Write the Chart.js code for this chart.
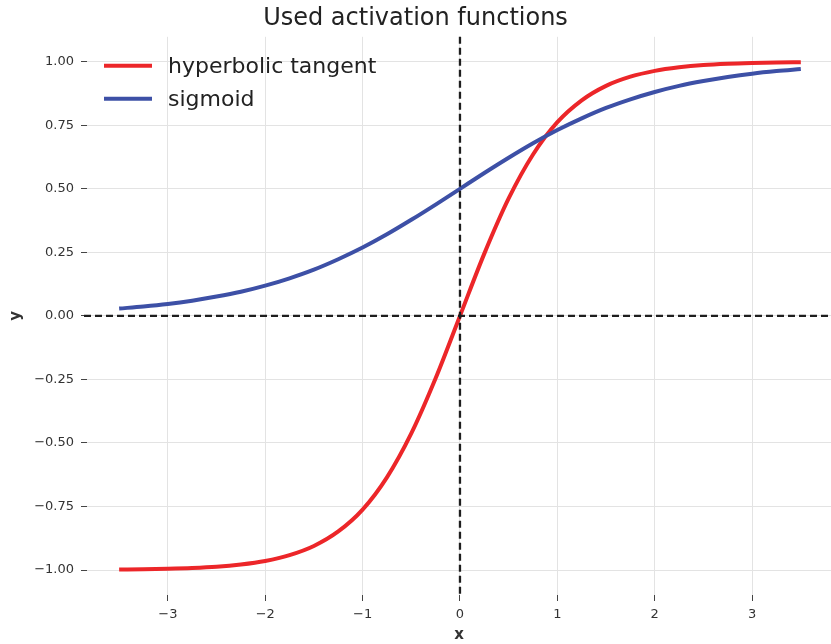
<!DOCTYPE html>
<html>
<head>
<meta charset="utf-8">
<script src="https://cdn.jsdelivr.net/npm/chart.js@4/dist/chart.umd.min.js"></script>
<style>
  html, body { margin: 0; padding: 0; background: #fff; }
  canvas { display: block; }
</style>
</head>
<body>
<canvas id="act-chart" width="831" height="644"></canvas>
<script>
// x 采样点
const xValues = [-3.5, -3.25, -3, -2.75, -2.5, -2.25, -2, -1.75, -1.5, -1.25, -1, -0.75, -0.5, -0.25, 0,
                 0.25, 0.5, 0.75, 1, 1.25, 1.5, 1.75, 2, 2.25, 2.5, 2.75, 3, 3.25, 3.5];
// 双曲正切
const tanhValues = [-0.998, -0.997, -0.995, -0.992, -0.987, -0.978, -0.964, -0.941, -0.905, -0.848, -0.762, -0.635, -0.462, -0.245, 0,
                    0.245, 0.462, 0.635, 0.762, 0.848, 0.905, 0.941, 0.964, 0.978, 0.987, 0.992, 0.995, 0.997, 0.998];
// sigmoid
const sigmoidValues = [0.029, 0.037, 0.047, 0.060, 0.076, 0.095, 0.119, 0.148, 0.182, 0.223, 0.269, 0.321, 0.378, 0.438, 0.5,
                       0.562, 0.622, 0.679, 0.731, 0.777, 0.818, 0.852, 0.881, 0.905, 0.924, 0.940, 0.953, 0.963, 0.971];
// 刻度
const xTicks = [-3, -2, -1, 0, 1, 2, 3];
const yTicks = [-1, -0.75, -0.5, -0.25, 0, 0.25, 0.5, 0.75, 1];

const FONT = "'DejaVu Sans', sans-serif";
const textColor = '#333333';

function toPoints(ys) {
    return xValues.map((x, i) => ({ x: x, y: ys[i] }));
}

function minus(s) {
    return s.replace('-', '\u2212');
}

// 原点处的虚线十字
const zeroLines = {
    id: 'zeroLines',
    afterDatasetsDraw(chart) {
        const { ctx, chartArea, scales } = chart;
        const x0 = scales.x.getPixelForValue(0);
        const y0 = scales.y.getPixelForValue(0);
        ctx.save();
        ctx.strokeStyle = '#1e1e1e';
        ctx.lineWidth = 2.3;
        ctx.setLineDash([7, 4]);
        ctx.beginPath();
        ctx.moveTo(x0, chartArea.top);
        ctx.lineTo(x0, chartArea.bottom);
        ctx.moveTo(chartArea.left - 3, y0);
        ctx.lineTo(chartArea.right, y0);
        ctx.stroke();
        ctx.restore();
    }
};

// 图例画在绘图区左上角
const innerLegend = {
    id: 'innerLegend',
    afterDraw(chart) {
        const ctx = chart.ctx;
        const left = chart.chartArea.left + 17;
        let y = chart.chartArea.top + 29;
        ctx.save();
        ctx.font = '22px ' + FONT;
        ctx.textBaseline = 'middle';
        chart.data.datasets.forEach(ds => {
            ctx.strokeStyle = ds.borderColor;
            ctx.lineWidth = 4;
            ctx.beginPath();
            ctx.moveTo(left, y);
            ctx.lineTo(left + 48, y);
            ctx.stroke();
            ctx.fillStyle = '#222222';
            ctx.fillText(ds.label, left + 64, y + 1);
            y += 33;
        });
        ctx.restore();
    }
};

new Chart(document.getElementById('act-chart').getContext('2d'), {
    type: 'line',
    data: {
        datasets: [{
            label: 'hyperbolic tangent',
            data: toPoints(tanhValues),
            borderColor: '#ec2629',
            borderWidth: 4,
            pointRadius: 0,
            cubicInterpolationMode: 'monotone',
            order: 1
        }, {
            label: 'sigmoid',
            data: toPoints(sigmoidValues),
            borderColor: '#3d50a6',
            borderWidth: 4,
            pointRadius: 0,
            cubicInterpolationMode: 'monotone',
            order: 0
        }]
    },
    options: {
        responsive: false,
        animation: false,
        layout: { padding: { left: 0, right: 0, top: 0, bottom: 0 } },
        plugins: {
            legend: { display: false },
            tooltip: { enabled: false },
            title: {
                display: true,
                text: 'Used activation functions',
                color: '#222222',
                font: { family: FONT, size: 24, weight: 'normal' },
                padding: { top: 4, bottom: 4 }
            }
        },
        scales: {
            x: {
                type: 'linear',
                min: -3.83,
                max: 3.81,
                afterBuildTicks: scale => { scale.ticks = xTicks.map(v => ({ value: v })); },
                afterFit: scale => { scale.height = 49; },
                border: { display: false },
                grid: { color: '#e3e3e3', lineWidth: 1, tickColor: '#444444', tickLength: 6, tickWidth: 1 },
                ticks: {
                    color: textColor,
                    padding: 6,
                    font: { family: FONT, size: 13 },
                    callback: v => minus(String(v))
                },
                title: {
                    display: true,
                    text: 'x',
                    color: '#333333',
                    font: { family: FONT, size: 15, weight: 'bold' },
                    padding: { top: 0, bottom: 0 }
                }
            },
            y: {
                min: -1.098,
                max: 1.098,
                afterBuildTicks: scale => { scale.ticks = yTicks.map(v => ({ value: v })); },
                afterFit: scale => { scale.width = 87; },
                border: { display: false },
                grid: { color: '#e3e3e3', lineWidth: 1, tickColor: '#444444', tickLength: 6, tickWidth: 1 },
                ticks: {
                    color: textColor,
                    padding: 7,
                    font: { family: FONT, size: 13 },
                    callback: v => minus(v.toFixed(2))
                },
                title: {
                    display: true,
                    text: 'y',
                    color: '#333333',
                    font: { family: FONT, size: 15, weight: 'bold' },
                    padding: { top: 7, bottom: 0 }
                }
            }
        }
    },
    plugins: [zeroLines, innerLegend]
});
</script>
</body>
</html>
